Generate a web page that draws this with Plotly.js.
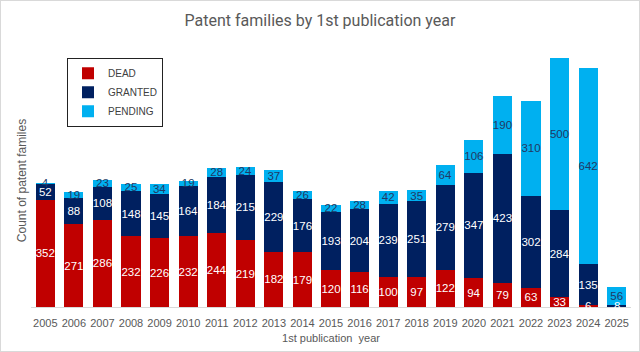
<!DOCTYPE html>
<html>
<head>
<meta charset="utf-8">
<script src="https://cdn.plot.ly/plotly-3.0.1.min.js"></script>
<style>
html,body{margin:0;padding:0;background:#fff;}
#chart{width:638px;height:350px;border:1px solid #d9d9d9;}
</style>
</head>
<body>
<div id="chart"></div>
<script>
const years = ['2005','2006','2007','2008','2009','2010','2011','2012','2013','2014','2015','2016','2017','2018','2019','2020','2021','2022','2023','2024','2025'];
const dead = [352,271,286,232,226,232,244,219,182,179,120,116,100,97,122,94,79,63,33,6,0];
const granted = [52,88,108,148,145,164,184,215,229,176,193,204,239,251,279,347,423,302,284,135,8];
const pending = [4,19,23,25,34,19,28,24,37,26,22,28,42,35,64,106,190,310,500,642,56];

const SMALL = 10;
const font = 'Liberation Sans, Arial, sans-serif';
// labels of tiny dead/granted segments are drawn as annotations so later stacks don't cover them
const lbl = (a, small) => a.map(v => (v > 0 && !(small && v < SMALL)) ? String(v) : '');

function series(name, vals, color, txtColor, small){
  return {
    type:'bar', name:name, x:years, y:vals, text:lbl(vals, small),
    texttemplate:'%{text}', textposition:'inside', insidetextanchor:'middle',
    textangle:0, constraintext:'none', cliponaxis:false,
    textfont:{family:font, size:11.5, color:txtColor},
    marker:{color:color, line:{width:0}}, hoverinfo:'x+y+name'
  };
}

const data = [
  series('DEAD', dead, '#C00000', '#ffffff', true),
  series('GRANTED', granted, '#002060', '#ffffff', true),
  series('PENDING', pending, '#00B0F0', '#203864', false)
];

const annotations = [];
years.forEach((yr, i) => {
  if (dead[i] > 0 && dead[i] < SMALL) {
    annotations.push({x:i, y:dead[i]/2, text:String(dead[i]), showarrow:false,
      font:{family:font, size:11.5, color:'#ffffff'}});
  }
  if (granted[i] > 0 && granted[i] < SMALL) {
    annotations.push({x:i, y:dead[i] + granted[i]/2, text:String(granted[i]), showarrow:false,
      font:{family:font, size:11.5, color:'#ffffff'}});
  }
});

const layout = {
  width:638, height:350,
  margin:{l:30, r:8, t:53, b:44},
  paper_bgcolor:'#ffffff', plot_bgcolor:'#ffffff',
  barmode:'stack', bargap:0.33,
  title:{text:'Patent families by 1st publication year', x:0.5, xanchor:'center', y:0.945, yanchor:'middle',
    font:{family:'Roboto, Liberation Sans, sans-serif', size:16, color:'#595959'}},
  xaxis:{type:'category', range:[-0.5, years.length - 0.5], showline:true, linecolor:'#d9d9d9', linewidth:1, ticks:'',
    ticklabelstandoff:6,
    tickfont:{family:font, size:11, color:'#595959'},
    title:{text:'1st publication  year', font:{family:font, size:11, color:'#595959'}, standoff:6}},
  yaxis:{range:[0,830], showgrid:false, zeroline:false, showticklabels:false, ticks:'', showline:false,
    title:{text:'Count of patent familes', font:{family:font, size:12, color:'#595959'}, standoff:0}},
  legend:{x:0.06, y:0.985, xanchor:'left', yanchor:'top', bgcolor:'#ffffff', bordercolor:'#222222', borderwidth:1,
    font:{family:font, size:10, color:'#404040'}, itemwidth:30, tracegroupgap:4, traceorder:'normal'},
  annotations:annotations,
  showlegend:true
};

Plotly.newPlot('chart', data, layout, {displayModeBar:false, staticPlot:true});
</script>
</body>
</html>
